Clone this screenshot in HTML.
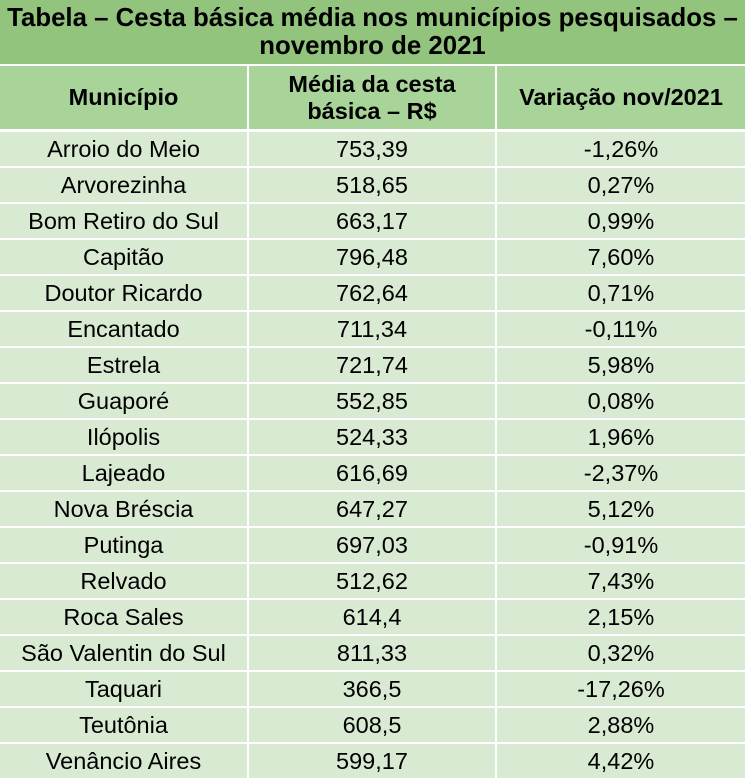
<!DOCTYPE html>
<html><head><meta charset="utf-8"><style>
body{margin:0;width:745px;height:780px;overflow:hidden;background:#fff;font-family:"Liberation Sans",sans-serif;color:#000}
.t{position:absolute;left:0;top:0;width:745px;height:64px;background:#93c47d;font-weight:bold;font-size:25.8px;text-align:center;line-height:28px;padding-top:4px;box-sizing:border-box;white-space:nowrap}
.c{position:absolute;display:flex;align-items:center;justify-content:center;text-align:center;box-sizing:border-box;white-space:nowrap}
.h{background:#a8d49a;font-weight:bold;font-size:23.5px;line-height:27px}
.d{background:#d9ead3;font-size:23.5px}
</style></head><body>
<div class="t">Tabela – Cesta básica média nos municípios pesquisados –<br>novembro de 2021</div>
<div id="g"></div>
<script>
var cols=[[0,247],[249,495],[497,745]];
var g=document.getElementById('g'),h='';
var hd=['Município','Média da cesta<br>básica – R$','Variação nov/2021'];
for(var i=0;i<3;i++)h+='<div class="c h" style="left:'+cols[i][0]+'px;top:66px;width:'+(cols[i][1]-cols[i][0])+'px;height:63px">'+hd[i]+'</div>';
var rows=[["Arroio do Meio","753,39","-1,26%"],["Arvorezinha","518,65","0,27%"],["Bom Retiro do Sul","663,17","0,99%"],["Capitão","796,48","7,60%"],["Doutor Ricardo","762,64","0,71%"],["Encantado","711,34","-0,11%"],["Estrela","721,74","5,98%"],["Guaporé","552,85","0,08%"],["Ilópolis","524,33","1,96%"],["Lajeado","616,69","-2,37%"],["Nova Bréscia","647,27","5,12%"],["Putinga","697,03","-0,91%"],["Relvado","512,62","7,43%"],["Roca Sales","614,4","2,15%"],["São Valentin do Sul","811,33","0,32%"],["Taquari","366,5","-17,26%"],["Teutônia","608,5","2,88%"],["Venâncio Aires","599,17","4,42%"]];
for(var r=0;r<rows.length;r++){var y=131+r*36;for(var i=0;i<3;i++)h+='<div class="c d" style="left:'+cols[i][0]+'px;top:'+(y+1)+'px;width:'+(cols[i][1]-cols[i][0])+'px;height:34px">'+rows[r][i]+'</div>';}
g.innerHTML=h;
</script>
</body></html>
